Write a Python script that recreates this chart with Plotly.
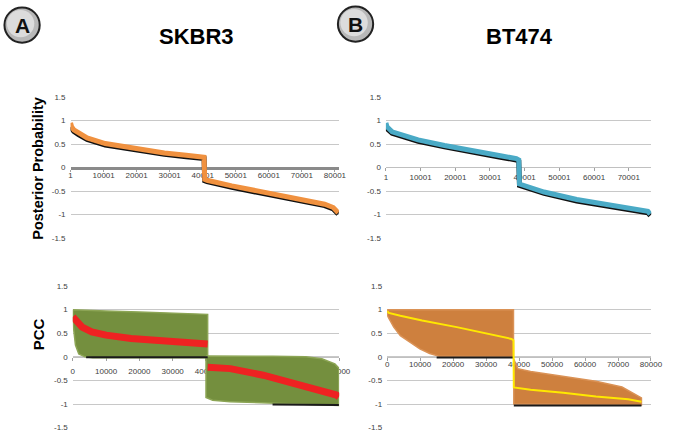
import plotly.graph_objects as go

W, H = 677, 437

# ---------------- data ----------------
# Panel A top: posterior probability (orange over black)
a_top_x = [1, 300, 1000, 2400, 5000, 10500, 18500, 28400, 35000, 40400, 40600, 41300,
           48800, 58900, 68900, 76900, 79500, 80800, 81000]
a_top_y = [0.95, 0.87, 0.80, 0.73, 0.63, 0.51, 0.41, 0.31, 0.26, 0.22, -0.25, -0.27,
           -0.39, -0.54, -0.68, -0.78, -0.85, -0.92, -0.96]
a_top_black_y = [0.86, 0.83, 0.77, 0.70, 0.60, 0.48, 0.38, 0.28, 0.23, 0.19, -0.28, -0.30,
                 -0.42, -0.57, -0.71, -0.81, -0.88, -0.95, -0.99]

# Panel B top: posterior probability (blue over black)
b_top_x = [1, 300, 1800, 5000, 9300, 16900, 26300, 33000, 37600, 38300, 38500, 45600,
           55000, 64400, 73800, 75500, 76200]
b_top_y = [0.95, 0.87, 0.76, 0.68, 0.59, 0.47, 0.33, 0.25, 0.19, 0.16, -0.35, -0.52,
           -0.68, -0.80, -0.90, -0.93, -0.99]
b_top_black_y = [0.84, 0.83, 0.73, 0.65, 0.56, 0.44, 0.30, 0.22, 0.16, 0.13, -0.38, -0.55,
                 -0.71, -0.83, -0.93, -0.96, -1.02]

cat_ticks_a = [1, 10001, 20001, 30001, 40001, 50001, 60001, 70001, 80001]
cat_ticks_b = [1, 10001, 20001, 30001, 40001, 50001, 60001, 70001]
pcc_ticks = [0, 10000, 20000, 30000, 40000, 50000, 60000, 70000, 80000]
y_ticks = [-1.5, -1, -0.5, 0, 0.5, 1, 1.5]
y_tick_text = ["-1.5", "-1", "-0.5", "0", "0.5", "1", "1.5"]

# Panel A bottom: PCC clouds (envelopes) and red running line
a_up_top_x = [0, 5000, 10000, 20000, 30000, 40500]
a_up_top_y = [1.0, 0.98, 0.97, 0.95, 0.93, 0.90]
a_up_low_x = [0, 800, 1800, 3700, 6000, 40500]
a_up_low_y = [0.75, 0.25, 0.06, 0.0, -0.02, -0.02]
a_lo_top_x = [40000, 50000, 60000, 70000, 74800, 78700, 79900]
a_lo_top_y = [0.02, 0.02, 0.01, 0.0, -0.04, -0.15, -0.24]
a_lo_low_x = [40000, 42000, 47300, 57200, 67000, 79900]
a_lo_low_y = [-0.86, -0.92, -0.95, -0.97, -1.0, -1.03]
a_red_x = [0, 1000, 2800, 5700, 10000, 17500, 29400, 35000, 40500, None,
           40500, 47300, 57200, 67000, 74800, 79200, 79900]
a_red_y = [0.85, 0.75, 0.63, 0.53, 0.46, 0.39, 0.34, 0.31, 0.27, None,
           -0.22, -0.25, -0.39, -0.57, -0.71, -0.81, -0.85]
a_black_x = [4000, 40500, None, 60000, 79900]
a_black_y = [-0.01, -0.01, None, -1.01, -1.02]

# Panel B bottom
b_up_top_x = [0, 38300]
b_up_top_y = [1.0, 1.0]
b_up_low_x = [0, 2000, 4000, 6900, 9900, 12900, 15800, 38300]
b_up_low_y = [0.88, 0.63, 0.45, 0.31, 0.17, 0.07, 0.01, 0.0]
b_lo_top_x = [38400, 39600, 43500, 53400, 63300, 71200, 75200, 77100]
b_lo_top_y = [-0.05, -0.25, -0.31, -0.42, -0.52, -0.64, -0.80, -0.87]
b_lo_low_x = [38400, 77100]
b_lo_low_y = [-1.0, -1.02]
b_yel_x = [0, 500, 4000, 10600, 21100, 25800, 31800, 37700, 38300, 38400, 43500,
           53400, 63300, 73100, 77100]
b_yel_y = [0.97, 0.93, 0.87, 0.77, 0.63, 0.56, 0.47, 0.38, 0.35, -0.65, -0.70,
           -0.76, -0.84, -0.90, -0.95]
b_black_x = [15000, 38300, None, 38400, 77100]
b_black_y = [-0.015, -0.015, None, -1.03, -1.03]

# ---------------- colours ----------------
ORANGE = "#f0913f"
BLUE = "#4aaac6"
GREEN = "rgb(116,143,62)"
RED = "#ee2222"
BROWN = "rgb(206,128,62)"
YELLOW = "#ffe800"
GRID = "#c8c8c8"
TICKC = "#404040"


def polygon(top_x, top_y, low_x, low_y):
    return top_x + low_x[::-1] + [top_x[0]], top_y + low_y[::-1] + [top_y[0]]


fig = go.Figure()

# Panel A top
fig.add_trace(go.Scatter(x=a_top_x, y=a_top_black_y, mode="lines",
                         line=dict(color="#111111", width=5), xaxis="x", yaxis="y"))
fig.add_trace(go.Scatter(x=a_top_x, y=a_top_y, mode="lines",
                         line=dict(color=ORANGE, width=5), xaxis="x", yaxis="y"))
# Panel B top
fig.add_trace(go.Scatter(x=b_top_x, y=b_top_black_y, mode="lines",
                         line=dict(color="#111111", width=5), xaxis="x2", yaxis="y2"))
fig.add_trace(go.Scatter(x=b_top_x, y=b_top_y, mode="lines",
                         line=dict(color=BLUE, width=5), xaxis="x2", yaxis="y2"))

# Panel A bottom
for tx, ty, lx, ly in [(a_up_top_x, a_up_top_y, a_up_low_x, a_up_low_y),
                       (a_lo_top_x, a_lo_top_y, a_lo_low_x, a_lo_low_y)]:
    px_, py_ = polygon(tx, ty, lx, ly)
    fig.add_trace(go.Scatter(x=px_, y=py_, mode="lines", fill="toself",
                             fillcolor=GREEN, line=dict(color="rgb(140,165,85)", width=1.5),
                             xaxis="x3", yaxis="y3"))
fig.add_trace(go.Scatter(x=a_black_x, y=a_black_y, mode="lines",
                         line=dict(color="#1a1a1a", width=2), xaxis="x3", yaxis="y3"))
fig.add_trace(go.Scatter(x=a_red_x, y=a_red_y, mode="lines",
                         line=dict(color=RED, width=7), xaxis="x3", yaxis="y3"))

# Panel B bottom
for tx, ty, lx, ly in [(b_up_top_x, b_up_top_y, b_up_low_x, b_up_low_y),
                       (b_lo_top_x, b_lo_top_y, b_lo_low_x, b_lo_low_y)]:
    px_, py_ = polygon(tx, ty, lx, ly)
    fig.add_trace(go.Scatter(x=px_, y=py_, mode="lines", fill="toself",
                             fillcolor=BROWN, line=dict(color="rgb(218,146,86)", width=1.5),
                             xaxis="x4", yaxis="y4"))
fig.add_trace(go.Scatter(x=b_black_x, y=b_black_y, mode="lines",
                         line=dict(color="#1a1a1a", width=2), xaxis="x4", yaxis="y4"))
fig.add_trace(go.Scatter(x=b_yel_x, y=b_yel_y, mode="lines",
                         line=dict(color=YELLOW, width=2), xaxis="x4", yaxis="y4"))

tickfont = dict(family="Liberation Sans", size=8, color=TICKC)


def yax(x_anchor, top_px, bot_px):
    return dict(domain=[1 - bot_px / H, 1 - top_px / H], range=[-1.5, 1.5], anchor=x_anchor,
                tickvals=y_ticks, ticktext=y_tick_text, showgrid=True, gridcolor=GRID,
                gridwidth=1, zeroline=False, showline=False, ticks="", tickfont=tickfont,
                ticklabelstandoff=4, fixedrange=True)


def xax(left_px, right_px, rng, zero_px, tickvals, linecolor, linewidth, ticklen, standoff):
    return dict(domain=[left_px / W, right_px / W], range=rng, anchor="free",
                position=1 - zero_px / H, tickvals=tickvals,
                ticktext=[str(v) for v in tickvals], showgrid=False, zeroline=False,
                showline=True, linecolor=linecolor, linewidth=linewidth,
                ticks="outside", ticklen=ticklen, tickcolor="#a0a0a0", tickfont=tickfont,
                layer="below traces", ticklabelstandoff=standoff, fixedrange=True)


fig.update_layout(
    width=W, height=H, margin=dict(l=0, r=0, t=0, b=0),
    paper_bgcolor="white", plot_bgcolor="white", showlegend=False,
    xaxis=xax(70, 344, [1, 81200], 167.3, cat_ticks_a, "#8a8a8a", 3, 2, -3),
    yaxis=yax("x", 95, 239),
    xaxis2=xax(392, 663, [1, 76490], 166.7, cat_ticks_b, "#c0c0c0", 1, 3, -1),
    yaxis2=yax("x2", 95, 239),
    xaxis3=xax(72.3, 344.3, [0, 80000], 360.2, pcc_ticks, "#c0c0c0", 1, 3, 4),
    yaxis3=yax("x3", 288, 432.5),
    xaxis4=xax(393.3, 662.7, [0, 80000], 360.2, pcc_ticks, "#c0c0c0", 1, 3, -3),
    yaxis4=yax("x4", 288, 432.5),
)

# Titles and labels
titlefont = dict(family="Liberation Sans", size=22, color="black", weight="bold")
fig.add_annotation(x=199 / W, y=1 - 33 / H, xref="paper", yref="paper", text="SKBR3",
                   showarrow=False, font=titlefont, xanchor="center", yanchor="middle")
fig.add_annotation(x=528 / W, y=1 - 33 / H, xref="paper", yref="paper", text="BT474",
                   showarrow=False, font=titlefont, xanchor="center", yanchor="middle")
fig.add_annotation(x=36 / W, y=1 - 168 / H, xref="paper", yref="paper",
                   text="Posterior Probability", textangle=-90, showarrow=False,
                   font=dict(family="Liberation Sans", size=14.5, color="black", weight="bold"),
                   xanchor="center", yanchor="middle")
fig.add_annotation(x=37.5 / W, y=1 - 337.5 / H, xref="paper", yref="paper",
                   text="PCC", textangle=-90, showarrow=False,
                   font=dict(family="Liberation Sans", size=15, color="black", weight="bold"),
                   xanchor="center", yanchor="middle")

# Circled panel letters
for cx, cy, letter in [(20.5, 21.5, "A"), (361, 20.5, "B")]:
    r = 18
    fig.add_shape(type="circle", xref="paper", yref="paper",
                  x0=(cx - r) / W, x1=(cx + r) / W, y0=1 - (cy + r) / H, y1=1 - (cy - r) / H,
                  fillcolor="#b8b8b8", line=dict(color="#222222", width=2))
    r2 = 14
    fig.add_shape(type="circle", xref="paper", yref="paper",
                  x0=(cx - r2 - 1.5) / W, x1=(cx + r2 - 1.5) / W,
                  y0=1 - (cy + r2 - 1.5) / H, y1=1 - (cy - r2 - 1.5) / H,
                  fillcolor="#dcdcdc", line=dict(width=0))
    fig.add_annotation(x=cx / W, y=1 - cy / H, xref="paper", yref="paper", text=letter,
                       showarrow=False, xanchor="center", yanchor="middle",
                       font=dict(family="Liberation Sans", size=21, color="#111111",
                                 weight="bold"))

fig.write_html("out.html", config={"displayModeBar": False, "staticPlot": True},
               post_script="document.body.style.margin='0';document.body.style.overflow='hidden';")
